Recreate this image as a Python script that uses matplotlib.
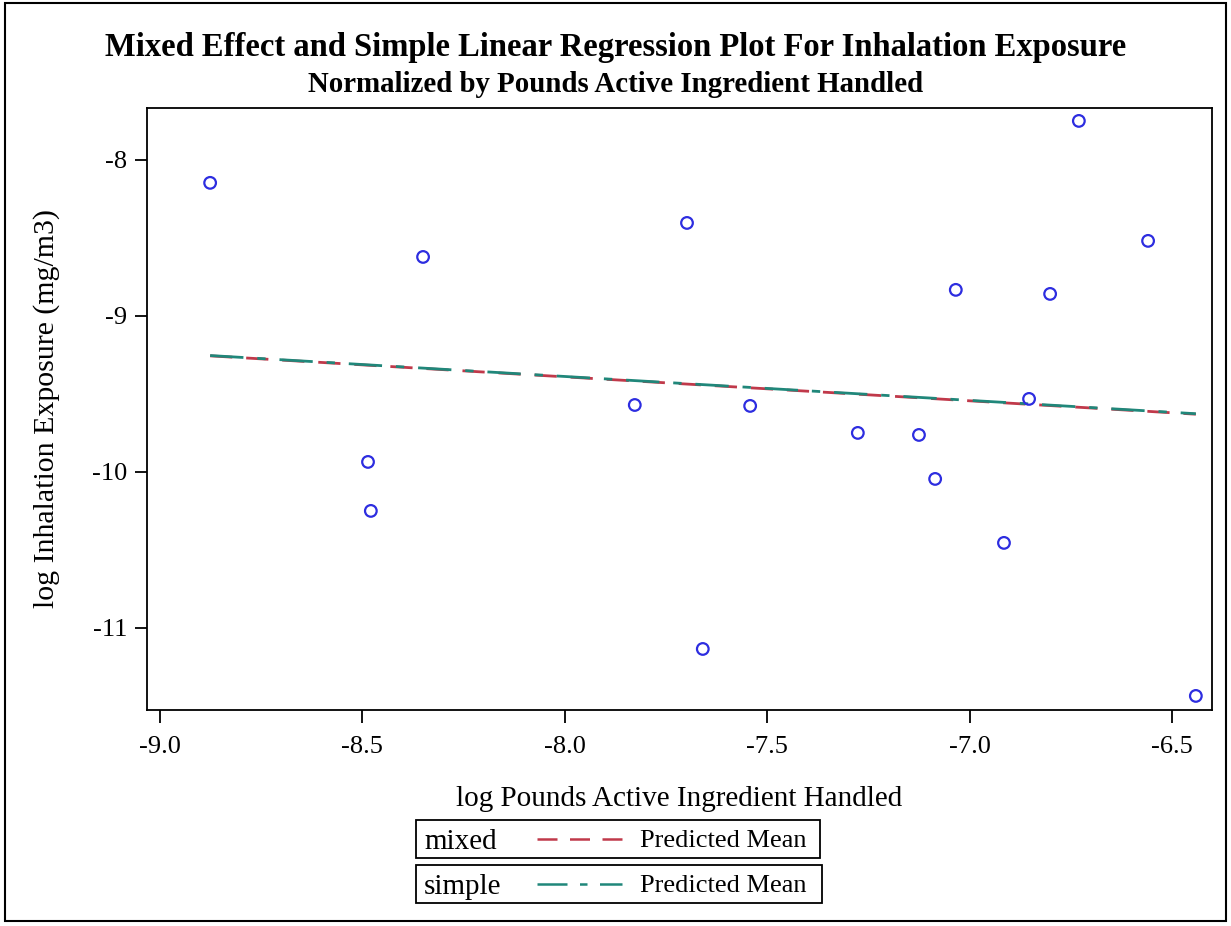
import numpy as np
import matplotlib
matplotlib.use("Agg")
import matplotlib.pyplot as plt
from matplotlib.patches import Rectangle
from matplotlib.lines import Line2D

plt.rcParams['font.family'] = ['Liberation Serif', 'DejaVu Serif']

# observed points (log pounds AI handled, log inhalation exposure)
log_lbs = [-8.876, -8.486, -8.479, -8.350, -7.827, -7.698, -7.659, -7.542, -7.276,
           -7.125, -7.085, -7.034, -6.915, -6.853, -6.801, -6.730, -6.559, -6.441]
log_exp = [-8.147, -9.936, -10.25, -8.622, -9.571, -8.404, -11.135, -9.577, -9.750,
           -9.763, -10.045, -8.833, -10.455, -9.532, -8.859, -7.750, -8.519, -11.436]

# predicted mean lines (end points)
fit_x = [-8.876, -6.441]
mixed_y = [-9.256, -9.630]
simple_y = [-9.254, -9.627]

xticks = [-9.0, -8.5, -8.0, -7.5, -7.0, -6.5]
yticks = [-8, -9, -10, -11]

fig = plt.figure(figsize=(12.31, 9.26), dpi=100)
ax = fig.add_axes([0.1194, 0.2333, 0.8652, 0.6501])

ax.plot(fit_x, mixed_y, color='#c0394a', lw=2, dashes=(8, 5))
ax.plot(fit_x, simple_y, color='#20877a', lw=2, dashes=(12, 5, 3, 5))
ax.scatter(log_lbs, log_exp, s=70, facecolors='none', edgecolors='#2d2de0', linewidths=1.6, zorder=3)

ax.set_xlim(-9.032, -6.401)
ax.set_ylim(-11.526, -7.667)
ax.set_xticks(xticks)
ax.set_xticklabels(['%.1f' % v for v in xticks])
ax.set_yticks(yticks)
ax.set_yticklabels([str(v) for v in yticks])
ax.tick_params(labelsize=19, length=9, width=1.3, direction='out', pad=5)
ax.tick_params(axis='x', pad=10)
for s in ax.spines.values():
    s.set_linewidth(1.3)

ax.set_xlabel('log Pounds Active Ingredient Handled', fontsize=21, labelpad=20)
ax.set_ylabel('log Inhalation Exposure (mg/m3)', fontsize=21.5, labelpad=23)

fig.text(0.5, 0.949, 'Mixed Effect and Simple Linear Regression Plot For Inhalation Exposure',
         ha='center', va='center', fontsize=23.5, fontweight='bold')
fig.text(0.5, 0.909, 'Normalized by Pounds Active Ingredient Handled',
         ha='center', va='center', fontsize=20.8, fontweight='bold')

# outer frame
fig.patches.append(Rectangle((0.004, 0.005), 0.992, 0.992, transform=fig.transFigure,
                             fill=False, ec='black', lw=1.5))

# legend boxes drawn by hand
W, H = 1231.0, 926.0
rows = [('mixed', '#c0394a', (8, 5), 820, 858, 820),
        ('simple', '#20877a', (12, 5, 3, 5), 865, 903, 822)]
for name, col, dsh, ytop, ybot, xr in rows:
    fig.patches.append(Rectangle((416 / W, 1 - ybot / H), (xr - 416) / W, (ybot - ytop) / H,
                                 transform=fig.transFigure, fill=False, ec='black', lw=1.3))
    yc = 1 - (ytop + ybot) / 2 / H
    fig.text(424 / W, yc - 0.003, name, ha='left', va='center', fontsize=21)
    fig.lines.append(Line2D([537 / W, 622 / W], [yc, yc], transform=fig.transFigure,
                            color=col, lw=1.8, dashes=dsh))
    fig.text(640 / W, yc - 0.002, 'Predicted Mean', ha='left', va='center', fontsize=19)

fig.savefig('out.png', dpi=100)
